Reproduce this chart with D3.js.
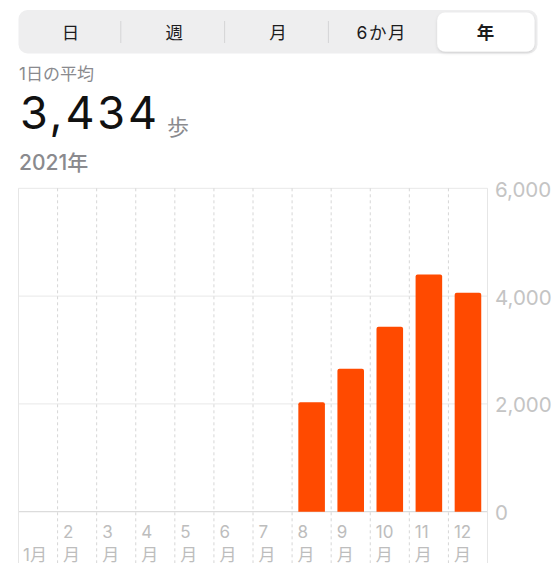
<!DOCTYPE html>
<html>
<head>
<meta charset="utf-8">
<script src="https://cdn.jsdelivr.net/npm/d3@7"></script>
<style>
  body { margin: 0; background: #fff; }
  svg { display: block; font-family: Inter, "Noto Sans CJK JP", sans-serif; }
</style>
</head>
<body>
<svg id="chart" width="559" height="588"></svg>
<script>
// data
const segments = ["日", "週", "月", "6か月", "年"];
const selectedSegment = "年";
const months = ["1", "2", "3", "4", "5", "6", "7", "8", "9", "10", "11", "12"];
const tickTop = ["", "2", "3", "4", "5", "6", "7", "8", "9", "10", "11", "12"];
const tickBottom = ["1月", "月", "月", "月", "月", "月", "月", "月", "月", "月", "月", "月"];
const steps = [0, 0, 0, 0, 0, 0, 0, 2030, 2650, 3430, 4400, 4060];
const yTicks = [0, 2000, 4000, 6000];
const title = "1日の平均";
const average = "3,434";
const unit = "歩";
const period = "2021年";

const svg = d3.select("#chart");

// segmented control
const seg = svg.append("g");
const segX = d3.scaleBand().domain(segments).range([18.5, 537.5]);
seg.append("rect")
  .attr("x", 18.5).attr("y", 10)
  .attr("width", 519).attr("height", 43.5)
  .attr("rx", 9)
  .attr("fill", "#eeeeef");

const defs = svg.append("defs");
const shadow = defs.append("filter").attr("id", "shadow")
  .attr("x", "-20%").attr("y", "-30%").attr("width", "140%").attr("height", "170%");
shadow.append("feDropShadow")
  .attr("dx", 0).attr("dy", 1.5).attr("stdDeviation", 1.5)
  .attr("flood-color", "#000").attr("flood-opacity", 0.13);

seg.append("rect")
  .attr("x", segX(selectedSegment) + 3.5).attr("y", 12.5)
  .attr("width", segX.bandwidth() - 6.5).attr("height", 39)
  .attr("rx", 8)
  .attr("fill", "#fff")
  .attr("filter", "url(#shadow)");

// separators (not next to the selected one)
segments.slice(1).forEach((s, i) => {
  const prev = segments[i];
  if (s === selectedSegment || prev === selectedSegment) return;
  seg.append("line")
    .attr("x1", segX(s) - 1.5).attr("x2", segX(s) - 1.5)
    .attr("y1", 21).attr("y2", 43)
    .attr("stroke", "#d4d4d6").attr("stroke-width", 1);
});

seg.selectAll("text.seg")
  .data(segments)
  .enter()
  .append("text")
  .attr("class", "seg")
  .attr("x", (d) => segX(d) + segX.bandwidth() / 2)
  .attr("y", 32)
  .attr("text-anchor", "middle")
  .attr("dominant-baseline", "central")
  .attr("font-size", 17.5)
  .attr("font-weight", (d) => (d === selectedSegment ? 600 : 400))
  .attr("fill", "#1c1c1e")
  .attr("letter-spacing", (d) => (d.length > 1 ? 1.5 : 0))
  .text((d) => d);

// header texts
svg.append("text")
  .attr("x", 19).attr("y", 80)
  .attr("font-size", 17)
  .attr("fill", "#8a8a8e")
  .text(title);

svg.append("text")
  .attr("x", 20).attr("y", 129)
  .attr("font-size", 45)
  .attr("fill", "#111")
  .attr("textLength", 137)
  .attr("lengthAdjust", "spacing")
  .text(average);

svg.append("text")
  .attr("x", 167).attr("y", 135)
  .attr("font-size", 22)
  .attr("fill", "#8a8a8e")
  .text(unit);

svg.append("text")
  .attr("x", 19).attr("y", 170)
  .attr("font-size", 21)
  .attr("font-weight", 500)
  .attr("fill", "#8a8a8e")
  .text(period);

// chart
const plotLeft = 18.5, plotRight = 487.5, plotTop = 188.3, plotBottom = 511.7, gridBottom = 563;

const xCol = d3.scaleBand().domain(months).range([plotLeft, plotRight]);
const xBar = d3.scaleBand().domain(months).range([plotLeft, plotRight])
  .paddingInner(0.32).paddingOuter(0.16);
const y = d3.scaleLinear().domain([0, 6000]).range([plotBottom, plotTop]);

const grid = svg.append("g");

// horizontal grid
grid.selectAll("line.h")
  .data(yTicks)
  .enter()
  .append("line")
  .attr("x1", plotLeft).attr("x2", plotRight)
  .attr("y1", (d) => y(d)).attr("y2", (d) => y(d))
  .attr("stroke", (d) => (d === 0 ? "#dcdcdc" : "#e8e8e8"))
  .attr("stroke-width", (d) => (d === 0 ? 1.3 : 1));

// vertical dashed
grid.selectAll("line.v")
  .data(months.slice(1))
  .enter()
  .append("line")
  .attr("x1", (d) => xCol(d)).attr("x2", (d) => xCol(d))
  .attr("y1", plotTop).attr("y2", gridBottom)
  .attr("stroke", "#d6d6d6")
  .attr("stroke-dasharray", "3,3");

// borders
[plotLeft, plotRight].forEach((x) => {
  grid.append("line")
    .attr("x1", x).attr("x2", x)
    .attr("y1", plotTop).attr("y2", gridBottom)
    .attr("stroke", "#e6e6e6");
});

// bars with rounded top corners
const r = 2;
const barData = months.map((m, i) => ({ m: m, v: steps[i] })).filter((d) => d.v > 0);
svg.append("g")
  .selectAll("path")
  .data(barData)
  .enter()
  .append("path")
  .attr("d", (d) => {
    const x0 = xBar(d.m), x1 = x0 + xBar.bandwidth();
    const y0 = y(d.v), y1 = y(0);
    return `M${x0},${y1}V${y0 + r}Q${x0},${y0} ${x0 + r},${y0}H${x1 - r}Q${x1},${y0} ${x1},${y0 + r}V${y1}Z`;
  })
  .attr("fill", "#ff4a00");

// y labels
svg.append("g")
  .selectAll("text")
  .data(yTicks)
  .enter()
  .append("text")
  .attr("x", 495)
  .attr("y", (d) => y(d) + 1)
  .attr("dominant-baseline", "central")
  .attr("font-size", 20.5)
  .attr("fill", "#c4c4c4")
  .text((d) => d3.format(",")(d));

// x labels (two lines)
const xl = svg.append("g").attr("font-size", 17).attr("fill", "#bdbdbd");
xl.selectAll("text.top")
  .data(months)
  .enter()
  .append("text")
  .attr("x", (d, i) => xCol(d) + (i === 0 ? 4.5 : 5.5))
  .attr("y", 538)
  .text((d, i) => tickTop[i]);
xl.selectAll("text.bot")
  .data(months)
  .enter()
  .append("text")
  .attr("x", (d, i) => xCol(d) + (i === 0 ? 4.5 : 5.5))
  .attr("y", 561)
  .text((d, i) => tickBottom[i]);
</script>
</body>
</html>
